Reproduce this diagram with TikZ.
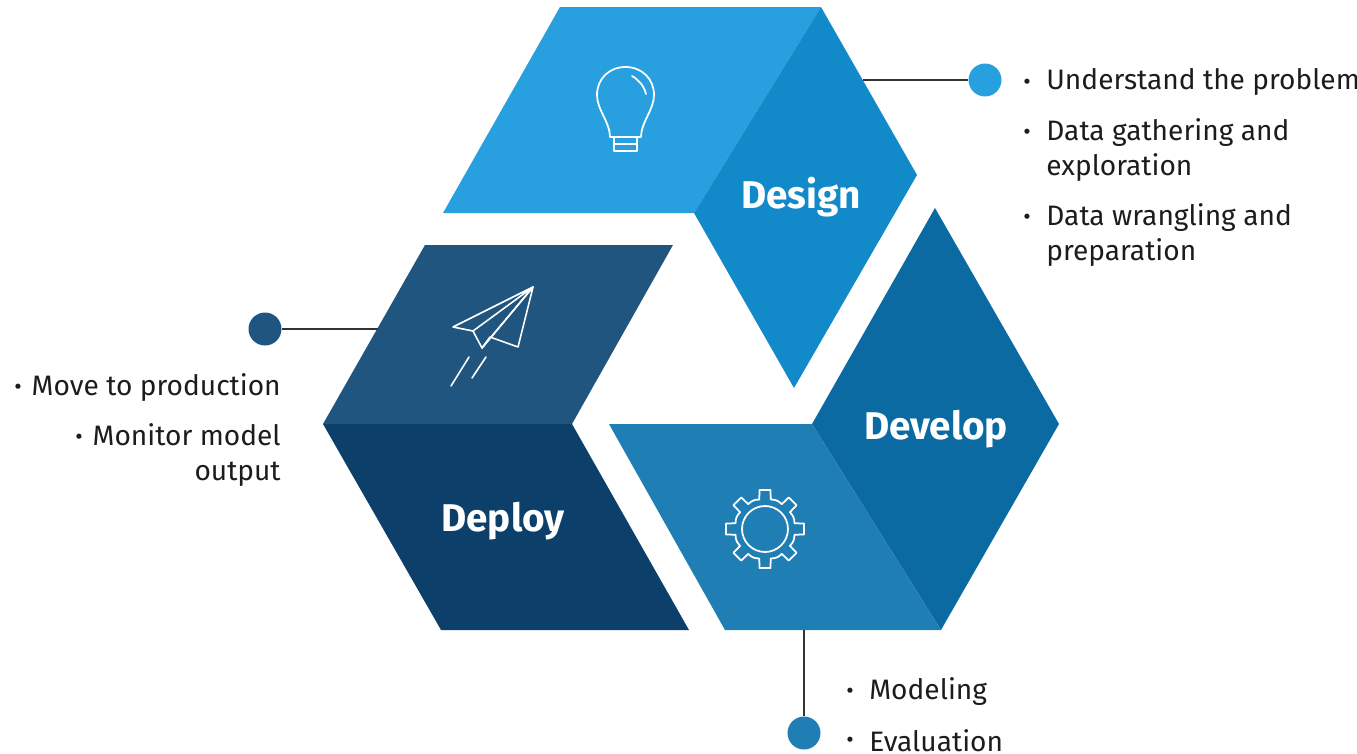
\documentclass[tikz,border=0pt]{standalone}
\usepackage{fontspec}
\setmainfont{Fira Sans}
\usepackage{xcolor}
\usetikzlibrary{calc}
\definecolor{designlight}{RGB}{40,160,223}
\definecolor{designdark}{RGB}{18,138,202}
\definecolor{deploylight}{RGB}{32,85,127}
\definecolor{deploydark}{RGB}{13,63,107}
\definecolor{developlight}{RGB}{31,126,180}
\definecolor{developdark}{RGB}{10,106,161}
\definecolor{linkcolor}{RGB}{51,51,51}
\definecolor{textcolor}{RGB}{28,28,28}

\begin{document}
\begin{tikzpicture}[
    x=0.02cm, y=-0.02cm,
    panel/.style={fill=#1},
    title/.style={font=\fontsize{22}{26}\selectfont\bfseries, text=white, inner sep=0pt},
    icon/.style={draw=white, line width=1pt, line join=round, line cap=round},
    dot/.style={circle, fill=#1, minimum size=0.66cm, inner sep=0pt},
    link/.style={draw=linkcolor, line width=0.85pt},
    itemtext/.style={font=\fontsize{16}{20}\selectfont, text=textcolor, inner sep=0pt, anchor=west, align=left},
    itemright/.style={itemtext, anchor=east, align=right},
    itemdot/.style={font=\fontsize{13}{13}\selectfont, text=textcolor, inner sep=0pt}
]
    \useasboundingbox (0,0) rectangle (1357,754);

    % Panels
    \fill[panel=designlight] (560,7) -- (821,7) -- (694,213) -- (443,213) -- cycle;
    \fill[panel=designdark] (821,7) -- (917,175) -- (794,388) -- (694,213) -- cycle;
    \fill[panel=deploylight] (425,245) -- (673,245) -- (572,424) -- (323,424) -- cycle;
    \fill[panel=deploydark] (323,424) -- (572,424) -- (689,630) -- (441,630) -- cycle;
    \fill[panel=developdark] (812,424) -- (935,208) -- (1059,424) -- (941,630) -- cycle;
    \fill[panel=developlight] (609,424) -- (812,424) -- (941,630) -- (725,630) -- cycle;

    % Titles
    \node[title] (design) at (801,197) {Design};
    \node[title] (develop) at (936,429) {Develop};
    \node[title] (deploy) at (503,521) {Deploy};

    % Connectors
    \coordinate (designedge) at (863,80);
    \coordinate (deployedge) at (378,329);
    \coordinate (developedge) at (804,630);
    \node[dot=designlight] (designdot) at (985,80) {};
    \node[dot=deploylight] (deploydot) at (265,329) {};
    \node[dot=developlight] (developdot) at (804,733) {};
    \draw[link] (designedge) -- (designdot);
    \draw[link] (deployedge) -- (deploydot);
    \draw[link] (developedge) -- (developdot);

    % Bulb
    \draw[icon] (610,137) .. controls (610,122) and (597,110) .. (597,95)
        .. controls (597,79) and (609,67) .. (625.5,67)
        .. controls (642,67) and (654,79) .. (654,95)
        .. controls (654,110) and (641,122) .. (641,137) -- cycle;
    \draw[icon] (614,137) -- (614,151) -- (637,151) -- (637,137);
    \draw[icon] (614,144) -- (637,144);
    \draw[icon] (632,76) .. controls (639,80) and (644,86) .. (646,94);

    % Plane
    \draw[icon, line width=0.9pt] (533,287) -- (453,327) -- (473,331) -- cycle;
    \draw[icon, line width=0.9pt] (473,331) -- (482,348) -- (533,287);
    \draw[icon, line width=0.9pt] (482,348) -- (490,337) -- (518,347) -- (533,287) -- cycle;
    \draw[icon, line width=0.9pt] (469,357) -- (451,386);
    \draw[icon, line width=0.9pt] (486,357) -- (472,378);

    % Gear
    \draw[icon] (765,529) circle (23);
    \begin{scope}[shift={(765,529)}]
        \foreach \a in {0,45,...,315} {
            \draw[icon] (\a-11:30) -- (\a-8:39.5) -- (\a+8:39.5) -- (\a+11:30)
                -- (\a+17:30.6) -- (\a+22.5:30.8) -- (\a+28:30.6) -- (\a+34:30);
        }
    \end{scope}

    % Design items
    \node[itemdot] (d1) at (1027,84) {•};
    \node[itemtext] (dtext1) at (1046,82) {Understand the problem};
    \node[itemdot] (d2) at (1027,134) {•};
    \node[itemtext] (dtext2) at (1046,150) {Data gathering and\\exploration};
    \node[itemdot] (d3) at (1027,219) {•};
    \node[itemtext] (dtext3) at (1046,235) {Data wrangling and\\preparation};

    % Deploy items
    \node[itemdot] (p1) at (18,389) {•};
    \node[itemright] (ptext1) at (281,388) {Move to production};
    \node[itemdot] (p2) at (79,439) {•};
    \node[itemright] (ptext2) at (281,455) {Monitor model\\output};

    % Develop items
    \node[itemdot] (m1) at (850,693) {•};
    \node[itemtext] (mtext1) at (869,692) {Modeling};
    \node[itemdot] (m2) at (850,742) {•};
    \node[itemtext] (mtext2) at (869,741) {Evaluation};
\end{tikzpicture}
\end{document}
